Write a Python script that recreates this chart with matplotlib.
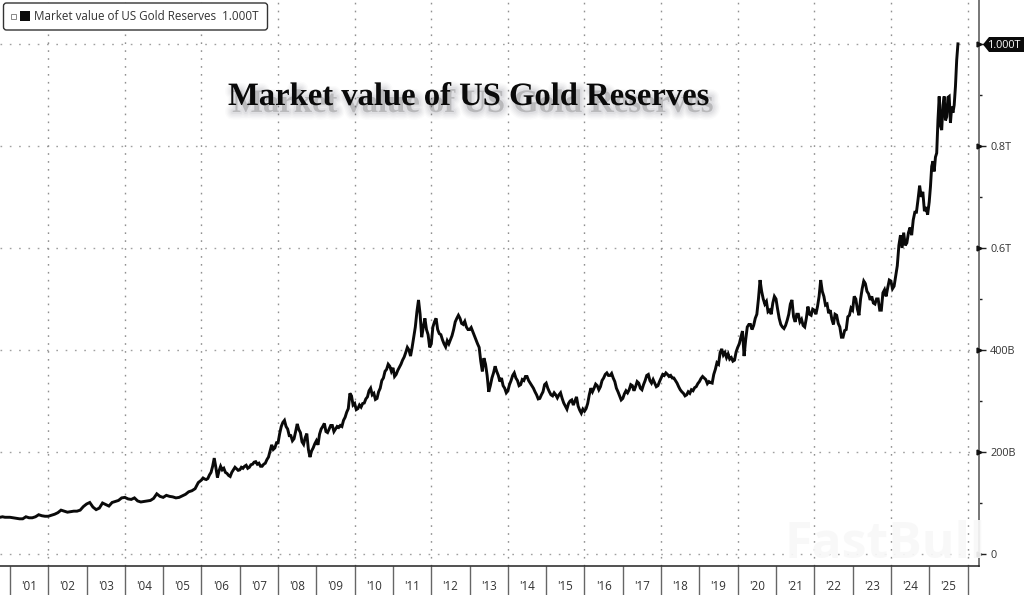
import numpy as np
import matplotlib
matplotlib.use("Agg")
import matplotlib.pyplot as plt
import matplotlib.patheffects as pe
from matplotlib.patches import FancyBboxPatch, Polygon, Rectangle
from matplotlib.transforms import Affine2D

TITLE = "Market value of US Gold Reserves"
LEGEND = "Market value of US Gold Reserves  1.000T"
TAG = "1.000T"
WATERMARK = "FastBull"
YEAR_LABELS = ["'%02d" % (y % 100) for y in range(2001, 2026)]
YTICKS = [0, 200, 400, 600, 800, 1000]
YLABELS = ["0", "200B", "400B", "0.6T", "0.8T", ""]
YMINOR = [100, 300, 500, 700, 900]

# market value, $ billions, read by year
v2000 = [72, 73, 72, 72]
v2001 = [72, 71, 70, 69, 69, 73, 71, 71, 73, 77, 75, 74]
v2002 = [74, 76, 78, 81, 86, 84, 82, 83, 84, 84, 86, 93]
v2003 = [98, 101, 92, 87, 90, 100, 97, 94, 101, 103, 105, 110]
v2004 = [111, 108, 107, 110, 104, 102, 103, 104, 105, 109, 118, 113]
v2005 = [111, 115, 113, 112, 110, 111, 114, 117, 122, 124, 128, 140]
v2006 = [145, 149, 147, 146, 148, 155, 160, 172, 188, 170, 150, 163, 172, 165, 168, 160, 158, 154, 152, 160, 165, 170, 167, 164]
v2007 = [165, 170, 168, 172, 174, 168, 170, 175, 176, 180, 181, 176, 178, 172, 172, 176, 178, 185, 190, 202, 214, 205, 208, 218]
v2008 = [218, 236, 250, 258, 262, 250, 245, 232, 232, 222, 226, 240, 255, 244, 238, 220, 215, 228, 236, 205, 190, 202, 208, 216]
v2009 = [222, 214, 235, 245, 250, 256, 240, 238, 245, 252, 252, 240, 245, 250, 248, 252, 250, 262, 268, 278, 285, 315, 310, 292]
v2010 = [295, 283, 285, 292, 288, 295, 296, 304, 308, 320, 325, 312, 315, 303, 305, 318, 325, 340, 345, 358, 362, 372, 368, 358]
v2011 = [365, 348, 352, 360, 366, 372, 380, 386, 395, 405, 400, 388, 405, 425, 445, 475, 498, 470, 425, 445, 462, 440, 430, 405]
v2012 = [412, 445, 455, 462, 440, 432, 430, 420, 412, 406, 418, 412, 420, 428, 440, 455, 462, 468, 462, 452, 450, 456, 445, 440]
v2013 = [440, 444, 436, 428, 420, 412, 405, 378, 358, 384, 372, 350, 318, 330, 345, 355, 368, 358, 350, 338, 345, 330, 325, 316]
v2014 = [320, 332, 340, 350, 355, 345, 340, 330, 332, 342, 340, 348, 348, 340, 335, 330, 325, 318, 312, 304, 305, 312, 318, 332]
v2015 = [335, 325, 318, 312, 310, 316, 312, 306, 312, 316, 305, 296, 290, 284, 295, 300, 302, 292, 300, 308, 290, 282, 276, 284]
v2016 = [280, 285, 295, 312, 325, 318, 325, 333, 330, 322, 328, 340, 345, 352, 355, 350, 350, 354, 345, 338, 325, 318, 310, 302]
v2017 = [305, 314, 320, 316, 322, 332, 330, 320, 328, 338, 335, 325, 322, 332, 340, 350, 352, 340, 335, 342, 335, 328, 330, 338]
v2018 = [345, 352, 350, 355, 352, 348, 350, 345, 345, 340, 335, 328, 322, 318, 315, 310, 312, 318, 315, 322, 320, 326, 328, 334]
v2019 = [338, 344, 348, 345, 342, 334, 338, 336, 335, 352, 362, 375, 372, 395, 402, 390, 395, 385, 392, 382, 385, 378, 380, 396]
v2020 = [405, 412, 425, 437, 388, 420, 445, 450, 450, 440, 448, 462, 470, 500, 537, 515, 500, 490, 495, 475, 478, 470, 492, 505]
v2021 = [500, 480, 462, 450, 445, 442, 448, 458, 470, 490, 498, 465, 455, 470, 470, 455, 460, 448, 445, 462, 485, 470, 468, 480]
v2022 = [478, 470, 485, 505, 537, 515, 505, 488, 490, 472, 478, 460, 450, 470, 468, 452, 445, 425, 425, 438, 440, 465, 468, 482]
v2023 = [478, 505, 500, 480, 468, 500, 520, 535, 530, 515, 510, 498, 505, 492, 490, 500, 500, 478, 478, 512, 518, 505, 522, 537]
v2024 = [535, 520, 525, 545, 565, 605, 625, 600, 630, 605, 610, 630, 640, 625, 655, 670, 670, 695, 722, 700, 710, 672, 680, 665]
v2025 = [690, 720, 760, 770, 750, 778, 786, 850, 897, 840, 831, 880, 897, 850, 857, 895, 897, 845, 877, 865, 880, 916, 968, 1000]

SERIES = [v2001, v2002, v2003, v2004, v2005, v2006, v2007, v2008, v2009, v2010, v2011, v2012,
          v2013, v2014, v2015, v2016, v2017, v2018, v2019, v2020, v2021, v2022, v2023, v2024]

xs = [np.linspace(2000.74, 2001, len(v2000), endpoint=False)]
for i, s in enumerate(SERIES):
    xs.append(np.linspace(2001 + i, 2002 + i, len(s), endpoint=False))
xs.append(np.linspace(2025, 2025.75, len(v2025)))
x = np.concatenate(xs)
y = np.concatenate([v2000] + SERIES + [v2025])

W, H = 1024, 595
L_R, B_PX = 979, 566
px = Affine2D().scale(1, -1).translate(0, H)

plt.rcParams["font.family"] = ["Open Sans", "DejaVu Sans"]
fig = plt.figure(figsize=(W / 100, H / 100), dpi=100, facecolor="white")
ax = fig.add_axes([0, (H - B_PX) / H, L_R / W, B_PX / H])
ax.set_xlim(2000.74, 2026.30)
ax.set_ylim(-23.5, 1086)

for v in YTICKS:
    ax.axhline(v, color="#a0a0a0", lw=1.0, dashes=(1.2, 5.5), zorder=1)
for yr in range(2002, 2027, 2):
    ax.axvline(yr, color="#909090", lw=1.0, dashes=(1.2, 4.5), zorder=1)

ax.plot(x, y, color="#0a0a0a", lw=2.1, solid_joinstyle="miter", zorder=3)

for s in ("top", "left"):
    ax.spines[s].set_visible(False)
ax.spines["right"].set_color("#777777")
ax.spines["right"].set_linewidth(1.4)
ax.spines["bottom"].set_color("#222222")
ax.spines["bottom"].set_linewidth(1.1)

ax.yaxis.tick_right()
ax.set_yticks(YTICKS, YLABELS)
ax.set_yticks(YMINOR, minor=True)
ax.tick_params(axis="y", which="major", length=5, width=1.0, color="#222222",
               labelcolor="#333333", labelsize=7.8, pad=3)
ax.tick_params(axis="y", which="minor", length=2.5, width=1.0, color="#222222")
ax.plot([1.0] * len(YTICKS), YTICKS, marker=">", ms=3.5, color="#111111", ls="none",
        transform=ax.get_yaxis_transform(), clip_on=False, zorder=5)

ax.set_xticks(np.arange(2001, 2027), [""] * 26)
ax.set_xticks(np.arange(2001, 2026) + 0.5, YEAR_LABELS, minor=True)
ax.tick_params(axis="x", which="major", length=21, width=1.0, color="#666666")
ax.tick_params(axis="x", which="minor", length=0, labelsize=8.4, labelcolor="#333333", pad=10)

# right-hand value tag
fig.add_artist(Polygon([(983, 44.5), (989, 37), (1024, 37), (1024, 52), (989, 52)],
                       closed=True, fc="#0b0b0b", ec="none", transform=px))
fig.text(1005, 45, TAG, color="white", fontsize=7.8, ha="center", va="center", transform=px)

# legend box
fig.add_artist(FancyBboxPatch((3.5, 3), 264, 27, boxstyle="round,pad=0,rounding_size=3",
                              fc="white", ec="#333333", lw=1.0, transform=px, zorder=4))
fig.add_artist(Rectangle((10.5, 13.5), 5, 5, fc="white", ec="#888888", lw=0.7, transform=px, zorder=5))
fig.add_artist(Rectangle((19.5, 11), 10, 10, fc="#0b0b0b", ec="none", transform=px, zorder=5))
fig.text(34, 17, LEGEND, color="#333333", fontsize=8.4, ha="left", va="center", transform=px, zorder=5)

# title with soft shadow
shadow = []
for w, a in ((11, 0.025), (9, 0.03), (7, 0.035), (5, 0.045), (3, 0.06)):
    shadow.append(pe.Stroke(linewidth=w, foreground="#555566", alpha=a, offset=(3, -5)))
shadow.append(pe.Normal())
fig.text(228, 105, TITLE, family=["Liberation Serif"], weight="bold", fontsize=23.5, color="#0a0a0a",
         ha="left", va="baseline", transform=px, path_effects=shadow, zorder=6)

# faint watermark
fig.text(885, 545, WATERMARK, weight="bold", fontsize=36, color="#f8f8f8", alpha=0.92,
         ha="center", va="center", transform=px, zorder=6)

fig.savefig("out.png", dpi=100, facecolor="white")
